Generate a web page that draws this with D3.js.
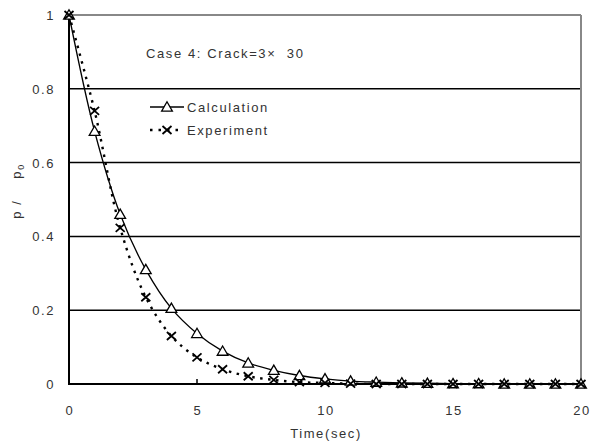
<!DOCTYPE html>
<html>
<head>
<meta charset="UTF-8">
<style>
  body { margin:0; background:#fff; }
  text { font-family: "Liberation Sans", Arial, sans-serif; fill:#333; letter-spacing:1.6px; }
</style>
<script src="https://cdn.jsdelivr.net/npm/d3@7"></script>
</head>
<body>
<svg width="597" height="443"></svg>
<script>
// data
var time = [0,1,2,3,4,5,6,7,8,9,10,11,12,13,14,15,16,17,18,19,20];
var calculation = [1,0.685,0.46,0.31,0.205,0.137,0.089,0.057,0.037,0.023,0.014,0.008,0.005,0.003,0.002,0.001,0.001,0,0,0,0];
var experiment = [1,0.74,0.423,0.235,0.13,0.072,0.04,0.021,0.011,0.005,0.003,0.001,0,0,0,0,0,0,0,0,0];
var xTicks = [0,5,10,15,20];
var yTicks = [0,0.2,0.4,0.6,0.8,1];

var svg = d3.select("svg");
var x = d3.scaleLinear().domain([0,20]).range([69,581]);
var y = d3.scaleLinear().domain([0,1]).range([384,15]);

// gridlines
svg.append("g").selectAll("line")
  .data([0.2,0.4,0.6,0.8])
  .enter().append("line")
  .attr("x1", x(0)).attr("x2", x(20))
  .attr("y1", d => y(d)).attr("y2", d => y(d))
  .attr("stroke","#000").attr("stroke-width",1.5);

// frame top/right in gray
svg.append("line").attr("x1",x(0)).attr("x2",x(20)).attr("y1",y(1)).attr("y2",y(1))
  .attr("stroke","#888").attr("stroke-width",2);
svg.append("line").attr("x1",x(20)).attr("x2",x(20)).attr("y1",y(1)).attr("y2",y(0))
  .attr("stroke","#888").attr("stroke-width",2);

// axes
svg.append("line").attr("x1",x(0)).attr("x2",x(0)).attr("y1",y(1)).attr("y2",y(0)+1)
  .attr("stroke","#000").attr("stroke-width",2);
svg.append("line").attr("x1",x(0)-1).attr("x2",x(20)).attr("y1",y(0)).attr("y2",y(0))
  .attr("stroke","#000").attr("stroke-width",2);
svg.append("line").attr("x1",x(5)).attr("x2",x(5)).attr("y1",y(0)).attr("y2",y(0)-5)
  .attr("stroke","#000").attr("stroke-width",1.5);

// tick labels
svg.append("g").selectAll("text").data(yTicks).enter().append("text")
  .attr("x", 55).attr("y", d => y(d) + 5)
  .attr("text-anchor","end").attr("font-size",13)
  .text(d => d);
svg.append("g").selectAll("text").data(xTicks).enter().append("text")
  .attr("x", d => x(d) + 1).attr("y", 415)
  .attr("text-anchor","middle").attr("font-size",13)
  .text(d => d);

svg.append("text").attr("x", 326).attr("y", 438).attr("text-anchor","middle")
  .attr("font-size",13).text("Time(sec)");

var yl = svg.append("text").attr("transform","translate(21,191) rotate(-90)")
  .attr("text-anchor","middle").attr("font-size",13).attr("xml:space","preserve");
yl.append("tspan").text("p /    p");
yl.append("tspan").attr("font-size",9).attr("dy",3).text("0");

svg.append("text").attr("x",146).attr("y",58).attr("font-size",13).attr("xml:space","preserve")
  .text("Case 4: Crack=3\u00d7  30");

// lines
var line = (vals) => d3.line().curve(d3.curveCatmullRom.alpha(0.5))
  .x((d,i) => x(time[i])).y(d => y(d))(vals);

svg.append("path").attr("d", line(calculation))
  .attr("fill","none").attr("stroke","#000").attr("stroke-width",1.3);
svg.append("path").attr("d", line(experiment))
  .attr("fill","none").attr("stroke","#000").attr("stroke-width",2.4)
  .attr("stroke-dasharray","2.5,5.5");

function tri(g, cx, cy) {
  g.append("path").attr("d", d3.symbol(d3.symbolTriangle, 50)())
    .attr("transform","translate("+cx+","+(cy+1)+")")
    .attr("fill","#fff").attr("stroke","#000").attr("stroke-width",1.3);
}
function cross(g, cx, cy) {
  g.append("path").attr("d","M-4.5,-4L4.5,4M-4.5,4L4.5,-4")
    .attr("transform","translate("+cx+","+cy+")")
    .attr("stroke","#000").attr("stroke-width",1.8);
}

var mk = svg.append("g");
calculation.forEach((v,i) => tri(mk, x(time[i]), y(v)));
experiment.forEach((v,i) => cross(mk, x(time[i]), y(v)));

// legend
var lg = svg.append("g");
lg.append("line").attr("x1",150).attr("x2",184).attr("y1",107).attr("y2",107)
  .attr("stroke","#000").attr("stroke-width",1.3);
tri(lg, 167, 107);
lg.append("text").attr("x",187).attr("y",112).attr("font-size",13).text("Calculation");
lg.append("line").attr("x1",150).attr("x2",184).attr("y1",130).attr("y2",130)
  .attr("stroke","#000").attr("stroke-width",2.4).attr("stroke-dasharray","2.5,6");
cross(lg, 167, 130);
lg.append("text").attr("x",187).attr("y",135).attr("font-size",13).text("Experiment");
</script>
</body>
</html>
